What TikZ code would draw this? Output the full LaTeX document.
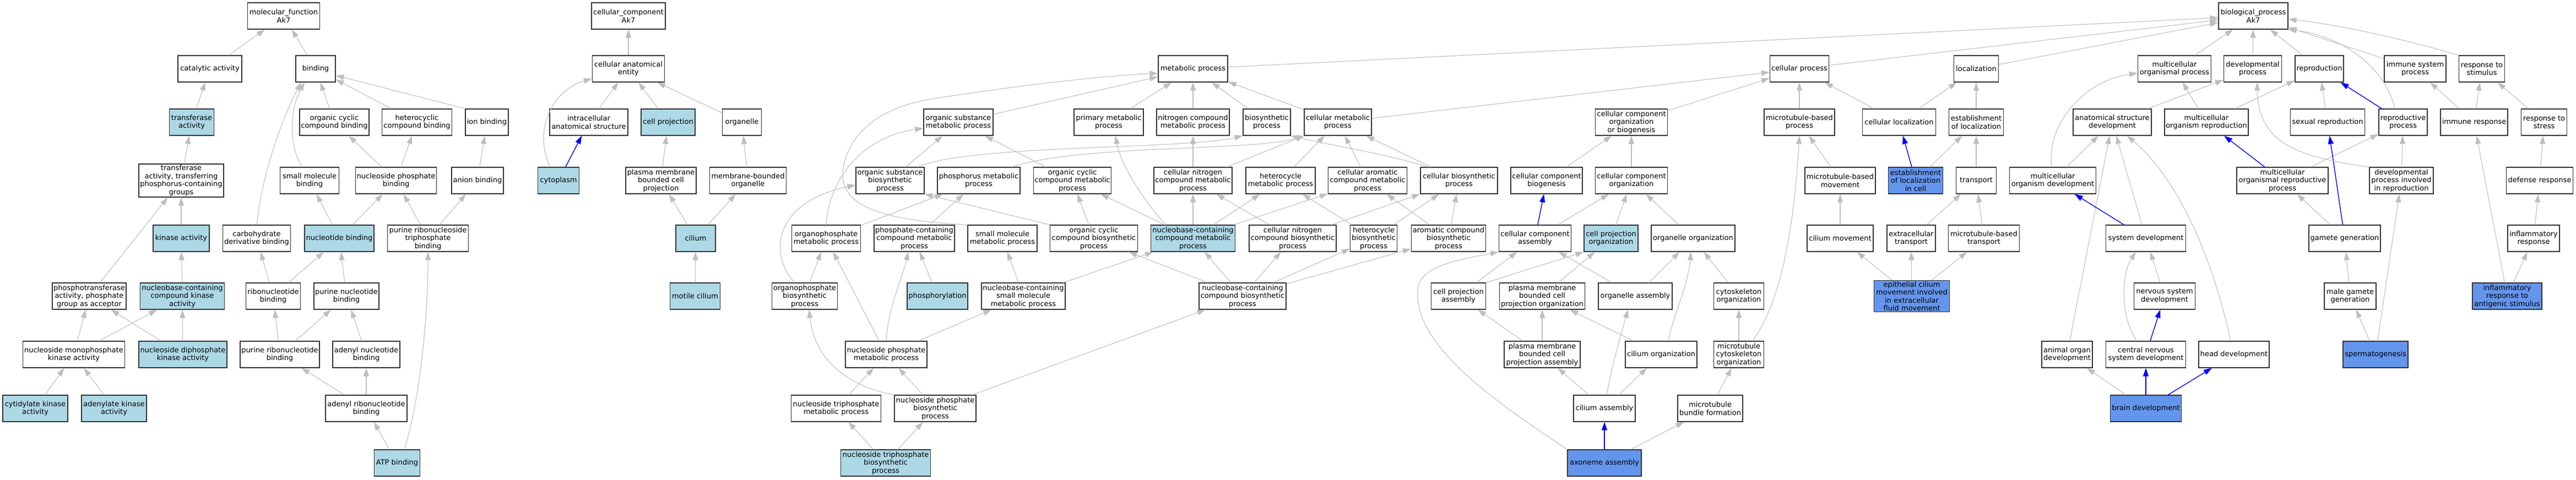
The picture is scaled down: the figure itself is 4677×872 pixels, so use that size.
\documentclass[tikz,border=0pt]{standalone}
\usepackage{fontspec}
\setmainfont{DejaVu Sans}
\usepackage{tikz}
\usetikzlibrary{arrows.meta}
\definecolor{annot}{HTML}{ADD8E6}
\definecolor{hit}{HTML}{6495ED}
\definecolor{edgegray}{HTML}{BEBEBE}

\begin{document}
\begin{tikzpicture}[x=1pt,y=-1pt,
  gobox/.style={draw=black!80, line width=1.2pt, align=center, inner xsep=2pt, inner ysep=2pt,
    minimum height=48pt, font=\fontsize{13}{14.5}\selectfont},
  isa/.style={draw=edgegray, line width=1.1pt, -{Triangle[length=15pt,width=10pt]}},
  ispath/.style={isa, draw=blue, line width=1.4pt}]
\useasboundingbox (0,0) rectangle (4677,872);
% Row 0 (roots)
\foreach \id/\x/\w/\col/\txt in {
  mf/515/131/white/{molecular\_function\\Ak7},
  cc/1141/134/white/{cellular\_component\\Ak7},
  bp/4091/126/white/{biological\_process\\Ak7}} {
    \node[gobox, fill=\col, minimum width=\w pt] (\id) at (\x,29) {\txt};
}
% Row 1
\foreach \id/\x/\w/\col/\txt in {
  catact/381/116/white/{catalytic activity},
  bind/573/72/white/{binding},
  cae/1141/131/white/{cellular anatomical\\entity},
  metab/2166/126/white/{metabolic process},
  cellproc/3267/107/white/{cellular process},
  locz/3588/81/white/{localization},
  mcop/3948/133/white/{multicellular\\organismal process},
  devproc/4090/105/white/{developmental\\process},
  repro/4211/88/white/{reproduction},
  immsys/4385/112/white/{immune system\\process},
  respstim/4506/83/white/{response to\\stimulus}} {
    \node[gobox, fill=\col, minimum width=\w pt] (\id) at (\x,125) {\txt};
}
% Row 2
\foreach \id/\x/\w/\col/\txt in {
  transf/348/81/annot/{transferase\\activity},
  orgcycbind/607/126/white/{organic cyclic\\compound binding},
  hetcycbind/757/127/white/{heterocyclic\\compound binding},
  ionbind/884/78/white/{ion binding},
  intracell/1069/142/white/{intracellular\\anatomical structure},
  cellproj/1213/98/annot/{cell projection},
  organelle/1347/71/white/{organelle},
  orgsubmet/1740/126/white/{organic substance\\metabolic process},
  primet/2013/126/white/{primary metabolic\\process},
  nitromet/2166/132/white/{nitrogen compound\\metabolic process},
  biosyn/2300/86/white/{biosynthetic\\process},
  cellmet/2429/122/white/{cellular metabolic\\process},
  ccob/2962/131/white/{cellular component\\organization\\or biogenesis},
  mtproc/3267/128/white/{microtubule-based\\process},
  cellloc/3448/133/white/{cellular localization},
  estloc/3588/99/white/{establishment\\of localization},
  asdev/3835/142/white/{anatomical structure\\development},
  mcorepro/4006/152/white/{multicellular\\organism reproduction},
  sexrep/4226/135/white/{sexual reproduction},
  reproproc/4363/88/white/{reproductive\\process},
  immresp/4492/122/white/{immune response},
  respstress/4619/83/white/{response to\\stress}} {
    \node[gobox, fill=\col, minimum width=\w pt] (\id) at (\x,222) {\txt};
}
% Row 3
\foreach \id/\x/\w/\col/\txt in {
  transfP/329/154/white/{transferase\\activity, transferring\\phosphorus-containing\\groups},
  smallbind/562/107/white/{small molecule\\binding},
  nucphosbind/719/147/white/{nucleoside phosphate\\binding},
  anionbind/867/94/white/{anion binding},
  cytoplasm/1014/75/annot/{cytoplasm},
  pmbcp/1200/128/white/{plasma membrane\\bounded cell\\projection},
  mbo/1358/139/white/{membrane-bounded\\organelle},
  orgsubbio/1616/124/white/{organic substance\\biosynthetic\\process},
  phosmet/1777/150/white/{phosphorus metabolic\\process},
  orgcycmet/1947/141/white/{organic cyclic\\compound metabolic\\process},
  cellnitmet/2166/142/white/{cellular nitrogen\\compound metabolic\\process},
  hetmet/2325/126/white/{heterocycle\\metabolic process},
  cellaromet/2483/143/white/{cellular aromatic\\compound metabolic\\process},
  cellbio/2649/140/white/{cellular biosynthetic\\process},
  ccbiog/2808/130/white/{cellular component\\biogenesis},
  ccorg/2962/131/white/{cellular component\\organization},
  mtmove/3341/128/white/{microtubule-based\\movement},
  estloccell/3478/99/hit/{establishment\\of localization\\in cell},
  transport/3588/73/white/{transport},
  mcodev/3727/157/white/{multicellular\\organism development},
  mcorepproc/4144/166/white/{multicellular\\organismal reproductive\\process},
  devinrep/4360/116/white/{developmental\\process involved\\in reproduction},
  defresp/4611/121/white/{defense response}} {
    \node[gobox, fill=\col, minimum width=\w pt] (\id) at (\x,328) {\txt};
}
% Row 4
\foreach \id/\x/\w/\col/\txt in {
  kinase/329/102/annot/{kinase activity},
  carbbind/466/123/white/{carbohydrate\\derivative binding},
  nucleotbind/616/126/annot/{nucleotide binding},
  purtribind/777/147/white/{purine ribonucleoside\\triphosphate\\binding},
  cilium/1263/72/annot/{cilium},
  opmet/1500/125/white/{organophosphate\\metabolic process},
  phoscmet/1660/146/white/{phosphate-containing\\compound metabolic\\process},
  smallmet/1820/126/white/{small molecule\\metabolic process},
  orgcycbio/1986/159/white/{organic cyclic\\compound biosynthetic\\process},
  nbmet/2166/153/annot/{nucleobase-containing\\compound metabolic\\process},
  cellnitbio/2347/158/white/{cellular nitrogen\\compound biosynthetic\\process},
  hetbio/2494/85/white/{heterocycle\\biosynthetic\\process},
  arobio/2630/135/white/{aromatic compound\\biosynthetic\\process},
  ccassem/2787/131/white/{cellular component\\assembly},
  cporg/2925/98/annot/{cell projection\\organization},
  orgorg/3074/152/white/{organelle organization},
  cilmove/3341/120/white/{cilium movement},
  ectrans/3470/88/white/{extracellular\\transport},
  mttrans/3602/129/white/{microtubule-based\\transport},
  sysdev/3896/145/white/{system development},
  gamete/4257/130/white/{gamete generation},
  inflresp/4600/94/white/{inflammatory\\response}} {
    \node[gobox, fill=\col, minimum width=\w pt] (\id) at (\x,433) {\txt};
}
% Row 5
\foreach \id/\x/\w/\col/\txt in {
  phostransf/162/134/white/{phosphotransferase\\activity, phosphate\\group as acceptor},
  nbkinase/331/153/annot/{nucleobase-containing\\compound kinase\\activity},
  ribobind/496/99/white/{ribonucleotide\\binding},
  purnucbind/629/118/white/{purine nucleotide\\binding},
  motile/1262/91/annot/{motile cilium},
  opbio/1461/118/white/{organophosphate\\biosynthetic\\process},
  phosph/1702/110/annot/{phosphorylation},
  nbsmallmet/1858/152/white/{nucleobase-containing\\small molecule\\metabolic process},
  nbbio/2256/158/white/{nucleobase-containing\\compound biosynthetic\\process},
  cpassem/2648/99/white/{cell projection\\assembly},
  pmbcporg/2800/155/white/{plasma membrane\\bounded cell\\projection organization},
  orgassem/2969/134/white/{organelle assembly},
  cskorg/3157/91/white/{cytoskeleton\\organization},
  epicil/3471/137/hit/{epithelial cilium\\movement involved\\in extracellular\\fluid movement},
  nsdev/3930/111/white/{nervous system\\development},
  malegam/4267/94/white/{male gamete\\generation},
  inflantig/4552/126/hit/{inflammatory\\response to\\antigenic stimulus}} {
    \node[gobox, fill=\col, minimum width=\w pt] (\id) at (\x,538) {\txt};
}
% Row 6
\foreach \id/\x/\w/\col/\txt in {
  nmpkinase/134/185/white/{nucleoside monophosphate\\kinase activity},
  ndpkinase/332/160/annot/{nucleoside diphosphate\\kinase activity},
  purribobind/508/144/white/{purine ribonucleotide\\binding},
  adenylbind/665/122/white/{adenyl nucleotide\\binding},
  npmet/1609/148/white/{nucleoside phosphate\\metabolic process},
  pmbcpassem/2800/138/white/{plasma membrane\\bounded cell\\projection assembly},
  cilorg/3016/130/white/{cilium organization},
  mtcskorg/3157/91/white/{microtubule\\cytoskeleton\\organization},
  aodev/3753/92/white/{animal organ\\development},
  cnsdev/3896/145/white/{central nervous\\system development},
  headdev/4056/128/white/{head development},
  spermato/4313/118/hit/{spermatogenesis}} {
    \node[gobox, fill=\col, minimum width=\w pt] (\id) at (\x,644) {\txt};
}
% Row 7
\foreach \id/\x/\w/\col/\txt in {
  cmpkinase/64/118/annot/{cytidylate kinase\\activity},
  adkinase/207/118/annot/{adenylate kinase\\activity},
  adribobind/665/148/white/{adenyl ribonucleotide\\binding},
  ntpmet/1518/163/white/{nucleoside triphosphate\\metabolic process},
  npbio/1698/148/white/{nucleoside phosphate\\biosynthetic\\process},
  cilassem/2913/112/white/{cilium assembly},
  mtbundle/3105/118/white/{microtubule\\bundle formation},
  braindev/3896/129/hit/{brain development}} {
    \node[gobox, fill=\col, minimum width=\w pt] (\id) at (\x,742) {\txt};
}
% Row 8
\foreach \id/\x/\w/\col/\txt in {
  atpbind/721/83/annot/{ATP binding},
  ntpbio/1608/163/annot/{nucleoside triphosphate\\biosynthetic\\process},
  axoneme/2913/134/hit/{axoneme assembly}} {
    \node[gobox, fill=\col, minimum width=\w pt] (\id) at (\x,841) {\txt};
}

% is_a edges, child -> parent
\foreach \a/\b in {
  catact/mf, bind/mf, transf/catact, transfP/transf, orgcycbind/bind, hetcycbind/bind,
  nucphosbind/orgcycbind, nucphosbind/hetcycbind, kinase/transfP, phostransf/transfP,
  nucleotbind/smallbind, nucleotbind/nucphosbind, purtribind/nucphosbind, anionbind/ionbind,
  purtribind/anionbind, nbkinase/kinase, ribobind/carbbind, ribobind/nucleotbind,
  purnucbind/nucleotbind, nmpkinase/phostransf, nmpkinase/nbkinase, ndpkinase/phostransf,
  ndpkinase/nbkinase, purribobind/ribobind, purribobind/purnucbind, adenylbind/purnucbind,
  cmpkinase/nmpkinase, adkinase/nmpkinase, adribobind/purribobind, adribobind/adenylbind,
  atpbind/adribobind,
  cae/cc, intracell/cae, cellproj/cae, organelle/cae, pmbcp/cellproj, mbo/organelle,
  cilium/pmbcp, cilium/mbo, motile/cilium,
  metab/bp, orgsubmet/metab, primet/metab, nitromet/metab, biosyn/metab, cellmet/metab,
  orgsubbio/orgsubmet, orgcycmet/orgsubmet, opmet/phosmet, phoscmet/phosmet,
  orgcycbio/orgcycmet, nbmet/orgcycmet, nbmet/cellnitmet, nbmet/hetmet, nbmet/cellaromet,
  cellnitmet/nitromet, cellnitmet/cellmet, hetmet/cellmet, cellaromet/cellmet, cellbio/cellmet,
  cellnitbio/cellnitmet, cellnitbio/cellbio, hetbio/hetmet, hetbio/cellbio,
  arobio/cellaromet, arobio/cellbio, opbio/opmet, phosph/phoscmet, nbsmallmet/smallmet,
  nbsmallmet/nbmet, nbbio/orgcycbio, nbbio/nbmet, nbbio/cellnitbio, nbbio/hetbio, nbbio/arobio,
  npmet/opmet, npmet/nbsmallmet, ntpmet/npmet, npbio/npmet, npbio/nbbio,
  ntpbio/ntpmet, ntpbio/npbio,
  cellproc/bp, locz/bp, cellmet/cellproc, ccob/cellproc, ccbiog/ccob, ccorg/ccob,
  ccassem/ccorg, cporg/ccorg, orgorg/ccorg, mtproc/cellproc, cellloc/cellproc, cellloc/locz,
  estloc/locz, mtmove/mtproc, estloccell/estloc, transport/estloc, cilmove/mtmove,
  ectrans/transport, mttrans/transport, cpassem/ccassem, pmbcporg/cporg, orgassem/ccassem,
  orgassem/orgorg, cskorg/orgorg, epicil/cilmove, epicil/ectrans, epicil/mttrans,
  pmbcpassem/cpassem, pmbcpassem/pmbcporg, cilorg/pmbcporg, mtcskorg/cskorg,
  cilassem/pmbcpassem, cilassem/cilorg, mtbundle/mtcskorg, axoneme/mtbundle,
  mcop/bp, devproc/bp, repro/bp, immsys/bp, asdev/devproc, mcodev/asdev, mcorepro/mcop,
  mcorepro/repro, sexrep/repro, immresp/immsys, immresp/respstim, respstress/respstim,
  mcorepproc/reproproc, devinrep/reproproc, defresp/respstress, sysdev/asdev,
  gamete/mcorepproc, inflresp/defresp, malegam/gamete, inflantig/inflresp, inflantig/immresp,
  aodev/asdev, spermato/malegam, spermato/devinrep, braindev/aodev, nsdev/sysdev} {
    \draw[isa] (\a) -- (\b);
}
% edges on the path to the annotated terms
\foreach \a/\b in {
  cytoplasm/intracell, ccassem/ccbiog, estloccell/cellloc, axoneme/cilassem,
  sysdev/mcodev, reproproc/repro, mcorepproc/mcorepro, gamete/sexrep,
  cnsdev/nsdev, braindev/cnsdev, braindev/headdev} {
    \draw[ispath] (\a) -- (\b);
}

% edges that leave the straight line
\draw[isa] (ionbind.north west) -- ([yshift=-12pt]bind.east);
\draw[isa] ([xshift=-13pt]smallbind.north) .. controls (525,270) and (525,200) .. ([xshift=-20pt]bind.south);
\draw[isa] (carbbind.north) .. controls (478,300) and (520,200) .. ([xshift=-26pt]bind.south);
\draw[isa] ([xshift=13pt]atpbind.north) .. controls (765,720) and (777,560) .. (purtribind.south);
\draw[isa] ([xshift=-15pt]cytoplasm.north) .. controls (968,240) and (1000,165) .. (cae.195);
\draw[isa] (smallmet.north west) .. controls (1600,400) and (1525,375) .. (1530,310)
  .. controls (1540,240) and (1600,195) .. (1690,180)
  .. controls (1850,155) and (2000,138) .. ([yshift=-8pt]metab.west);
\draw[isa] (opmet.north) .. controls (1505,330) and (1560,250) .. ([yshift=-11pt]orgsubmet.west);
\draw[isa] ([xshift=-18pt]opbio.north) .. controls (1400,470) and (1395,370) .. ([yshift=-8pt]orgsubbio.west);
\draw[isa] (npbio.north west) .. controls (1555,705) and (1480,665) .. ([xshift=8pt]opbio.south);
\draw[isa] (npmet.north) .. controls (1612,560) and (1640,500) .. ([xshift=-11pt]phoscmet.south);
\draw[isa] ([xshift=-49pt]nbmet.north) .. controls (2080,370) and (2035,300) .. ([xshift=12pt]primet.south);
\draw[isa] ([xshift=50pt]orgsubbio.north) .. controls (1760,262) and (2150,272) .. (biosyn.south west);
\draw[isa] ([xshift=60pt]phosmet.north) .. controls (1960,262) and (2280,275) .. (cellmet.south west);
\draw[isa] ([xshift=-56pt]cellbio.north) .. controls (2520,280) and (2420,265) .. (biosyn.south east);
\draw[isa] (orgcycbio.north west) -- (orgsubbio.south east);
\draw[isa] (cpassem.north east) -- (cporg.south west);
\draw[isa] (axoneme.north west) .. controls (2700,720) and (2560,620) .. (2575,520)
  .. controls (2585,480) and (2660,470) .. (ccassem.south west);
\draw[isa] ([xshift=13pt]cilorg.north) .. controls (3035,580) and (3065,520) .. ([xshift=-4pt]orgorg.south);
\draw[isa] ([xshift=4pt]cilassem.north) .. controls (2930,650) and (2945,600) .. ([xshift=-13pt]orgassem.south);
\draw[isa] ([xshift=25pt]mtcskorg.north) .. controls (3225,560) and (3255,450) .. (mtproc.south);
\draw[isa] ([xshift=-2pt]mcodev.north) .. controls (3715,220) and (3790,145) .. ([yshift=-8pt]mcop.west);
\draw[isa] ([xshift=-16pt]cnsdev.north) .. controls (3850,580) and (3850,500) .. ([xshift=-18pt]sysdev.south);
\draw[isa] ([xshift=-6pt]headdev.north) .. controls (4020,480) and (3960,330) .. ([xshift=27pt]asdev.south);
\draw[isa] (devinrep.north west) .. controls (4170,285) and (4100,260) .. ([xshift=8pt]devproc.south);
\draw[isa] ([xshift=-15pt]reproproc.north) .. controls (4330,120) and (4250,65) .. (bp.south east);
\draw[isa] (respstim.north west) .. controls (4380,75) and (4250,45) .. ([yshift=-6pt]bp.east);
\end{tikzpicture}
\end{document}
